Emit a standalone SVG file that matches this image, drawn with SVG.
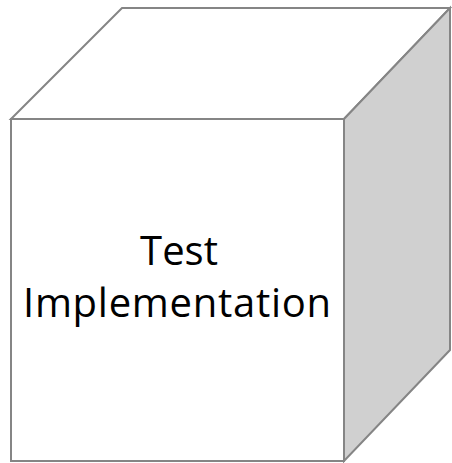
<svg xmlns="http://www.w3.org/2000/svg" width="452" height="463" viewBox="0 0 452 463">
  <style>
    .edge { stroke: #858585; stroke-width: 2; stroke-linejoin: miter; }
    .face { fill: #ffffff; }
    .side { fill: #d0d0d0; }
    .label { font-family: "Open Sans", "Liberation Sans", sans-serif; font-size: 40px; fill: #000000; text-anchor: middle; }
  </style>
  <rect width="452" height="463" fill="#ffffff"/>
  <g id="cube">
    <!-- top face -->
    <polygon class="face edge" points="11,119 122,8 450,8 344,119"/>
    <!-- right side face -->
    <polygon class="side edge" points="344,119 450,8 450,350 344,461"/>
    <!-- front face -->
    <rect class="face edge" x="11" y="119" width="333" height="342"/>
    <text class="label" x="179" y="265">Test</text>
    <text class="label" x="177" y="317" textLength="308" lengthAdjust="spacing">Implementation</text>
  </g>
</svg>
